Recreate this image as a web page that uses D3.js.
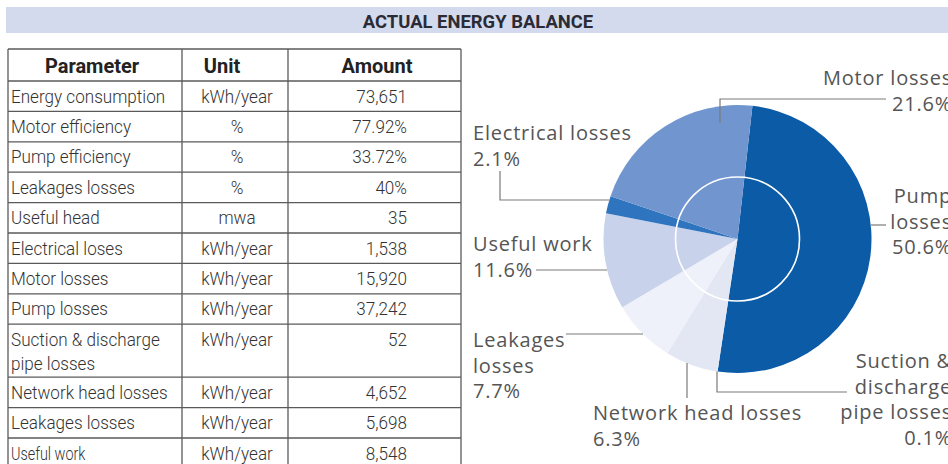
<!DOCTYPE html>
<html>
<head>
<meta charset="utf-8">
<script src="https://cdnjs.cloudflare.com/ajax/libs/d3/7.8.5/d3.min.js"></script>
<style>
  body { margin: 0; background: #fff; }
  svg { display: block; }
</style>
</head>
<body>
<div id="grafiek"></div>
<script>

// data voor de tabel
var parameters = ["Energy consumption", "Motor efficiency", "Pump efficiency", "Leakages losses",
                  "Useful head", "Electrical loses", "Motor losses", "Pump losses",
                  "Suction & discharge pipe losses", "Network head losses", "Leakages losses", "Useful work"];
var eenheden = ["kWh/year", "%", "%", "%", "mwa", "kWh/year", "kWh/year", "kWh/year",
                "kWh/year", "kWh/year", "kWh/year", "kWh/year"];
var hoeveelheden = ["73,651", "77.92%", "33.72%", "40%", "35", "1,538", "15,920", "37,242",
                    "52", "4,652", "5,698", "8,548"];
var kolomKoppen = ["Parameter", "Unit", "Amount"];

// data voor het taartdiagram (met de klok mee, vanaf pump losses)
var segmenten = ["Pump losses", "Suction & discharge pipe losses", "Network head losses",
                 "Leakages losses", "Useful work", "Electrical losses", "Motor losses"];
var percentages = [50.6, 0.1, 6.3, 7.7, 11.6, 2.1, 21.6];
var kleuren = ["#0b5ba7", "#dfe5f2", "#e2e7f3", "#eef1f9", "#c8d2ea", "#2e74bf", "#7195cf"];

var breedte = 948, hoogte = 464;

var svg = d3.select("#grafiek").append("svg")
            .attr("width", breedte)
            .attr("height", hoogte);

// titelbalk
svg.append("rect")
   .attr("x", 6).attr("y", 7)
   .attr("width", breedte - 6).attr("height", 26)
   .attr("fill", "#d4daed");

svg.append("g")
   .attr("transform", "translate(478,28) scale(0.97,1)")
   .append("text")
   .attr("text-anchor", "middle")
   .attr("font-family", "Roboto")
   .attr("font-weight", "bold")
   .attr("font-size", 19)
   .attr("fill", "#2b2b36")
   .text("ACTUAL ENERGY BALANCE");

// ---------- tabel ----------
var kolommen = [8, 182, 288, 461];
var kopHoogte = 32, rijHoogte = 30.4, regelAfstand = 24;
var tabelTop = 49;

// rijen die over twee regels lopen
function regels(tekst) {
  if (tekst == "Suction & discharge pipe losses") return ["Suction & discharge", "pipe losses"];
  return [tekst];
}

var rijData = parameters.map(function(p, i) {
  return {param: p, eenheid: eenheden[i], hoeveelheid: hoeveelheden[i], regels: regels(p)};
});
var y = tabelTop + kopHoogte;
rijData.forEach(function(d) {
  d.y = y;
  d.h = d.regels.length > 1 ? rijHoogte + 22.6 : rijHoogte;
  y += d.h;
});

var tabel = svg.append("g").attr("class", "tabel");
var tekstKleur = "#333";
var lijnKleur = "#5a5a5a";

function smalleTekst(g, x, y, tekst, anker, opties) {
  opties = opties || {};
  g.append("g")
   .attr("transform", "translate(" + x + "," + y + ") scale(" + (opties.sx || 0.95) + ",1)")
   .append("text")
   .attr("text-anchor", anker)
   .attr("font-family", "Roboto")
   .attr("font-weight", opties.vet ? "bold" : 300)
   .attr("font-size", opties.grootte || 18)
   .attr("fill", opties.kleur || tekstKleur)
   .text(tekst);
}

// kop
var kopX = [92, 222, 377];
kolomKoppen.forEach(function(k, i) {
  smalleTekst(tabel, kopX[i], tabelTop + 24, k, "middle", {vet: true, kleur: "#222", sx: 1, grootte: 20});
});

rijData.forEach(function(d) {
  d.regels.forEach(function(r, j) {
    smalleTekst(tabel, kolommen[0] + 3, d.y + 21.5 + j * regelAfstand, r, "start",
                {sx: d.param == "Useful work" ? 0.8 : 0.95});
  });
  smalleTekst(tabel, 237, d.y + 21.5, d.eenheid, "middle");
  smalleTekst(tabel, 407, d.y + 21.5, d.hoeveelheid, "end");
});

// lijnen van de tabel
var horizontaal = [tabelTop, tabelTop + kopHoogte].concat(rijData.map(function(d) { return d.y + d.h; }));
tabel.selectAll(".hlijn")
     .data(horizontaal)
     .enter().append("line")
     .attr("x1", kolommen[0]).attr("x2", kolommen[3])
     .attr("y1", function(d) { return d; }).attr("y2", function(d) { return d; })
     .attr("stroke", lijnKleur).attr("stroke-width", 1.3);

tabel.selectAll(".vlijn")
     .data(kolommen)
     .enter().append("line")
     .attr("x1", function(d) { return d; }).attr("x2", function(d) { return d; })
     .attr("y1", tabelTop).attr("y2", horizontaal[horizontaal.length - 1])
     .attr("stroke", lijnKleur).attr("stroke-width", 1.3);

// ---------- taartdiagram ----------
var cx = 737.5, cy = 239, straal = 134;
var start = 6.4 * Math.PI / 180;

var pie = d3.pie()
            .value(function(d) { return d.waarde; })
            .sort(null)
            .startAngle(start)
            .endAngle(start + 2 * Math.PI);

var arc = d3.arc().innerRadius(0).outerRadius(straal);

var taartData = segmenten.map(function(s, i) {
  return {naam: s, waarde: percentages[i], kleur: kleuren[i]};
});

var taart = svg.append("g")
               .attr("transform", "translate(" + cx + "," + cy + ")");

taart.selectAll("path")
     .data(pie(taartData))
     .enter().append("path")
     .attr("d", arc)
     .attr("fill", function(d) { return d.data.kleur; });

taart.append("circle")
     .attr("r", 62)
     .attr("fill", "none")
     .attr("stroke", "#fff")
     .attr("stroke-width", 1.6);

// labels met hulplijnen
var labelOpmaak = {
  "Motor losses": {x: 952, y: 85, anker: "end", regels: ["Motor losses"],
                   lijn: [[886, 99], [720, 99]], eind: "v", k: 0.875},
  "Electrical losses": {x: 473, y: 140, anker: "start", regels: ["Electrical losses"],
                        lijn: [[500, 171], [500, 200]], eind: "h", k: 1},
  "Pump losses": {x: 952, y: 203, anker: "end", regels: ["Pump", "losses"],
                  lijn: [[886, 225]], eind: "h", k: 1},
  "Useful work": {x: 473, y: 251, anker: "start", regels: ["Useful work"],
                  lijn: [[536, 270]], eind: "h", k: 1},
  "Leakages losses": {x: 473, y: 347, anker: "start", regels: ["Leakages", "losses"],
                      lijn: [[566, 334]], eind: "h", k: 1},
  "Network head losses": {x: 593, y: 420, anker: "start", regels: ["Network head losses"],
                          lijn: [[687, 398]], eind: "v", k: 1},
  "Suction & discharge pipe losses": {x: 952, y: 368, anker: "end", regels: ["Suction &", "discharge", "pipe losses"],
                                      lijn: [[847, 392], [717, 392]], eind: "v", k: 1}
};

var labels = svg.append("g").attr("class", "labels");

taartData.forEach(function(d) {
  var o = labelOpmaak[d.naam];
  var punten = o.lijn.slice();
  var laatste = punten[punten.length - 1];
  var r = straal * o.k;
  if (o.eind == "h") {
    var dy = laatste[1] - cy;
    var teken = laatste[0] < cx ? -1 : 1;
    punten.push([cx + teken * Math.sqrt(r * r - dy * dy), laatste[1]]);
  } else {
    var dx = laatste[0] - cx;
    var tekenY = laatste[1] < cy ? -1 : 1;
    punten.push([laatste[0], cy + tekenY * Math.sqrt(r * r - dx * dx)]);
  }
  labels.append("path")
        .attr("d", d3.line()(punten))
        .attr("fill", "none")
        .attr("stroke", "#7a7a7a")
        .attr("stroke-width", 1.2);

  var tekst = labels.append("text")
                    .attr("font-family", "Open Sans")
                    .attr("font-size", 20)
                    .attr("letter-spacing", 0.8)
                    .attr("fill", "#555")
                    .attr("text-anchor", o.anker);
  o.regels.concat([d3.format(".1f")(d.waarde) + "%"]).forEach(function(regel, j) {
    tekst.append("tspan")
         .attr("x", o.x)
         .attr("y", o.y + j * 25.7)
         .text(regel);
  });
});
</script>
</body>
</html>
